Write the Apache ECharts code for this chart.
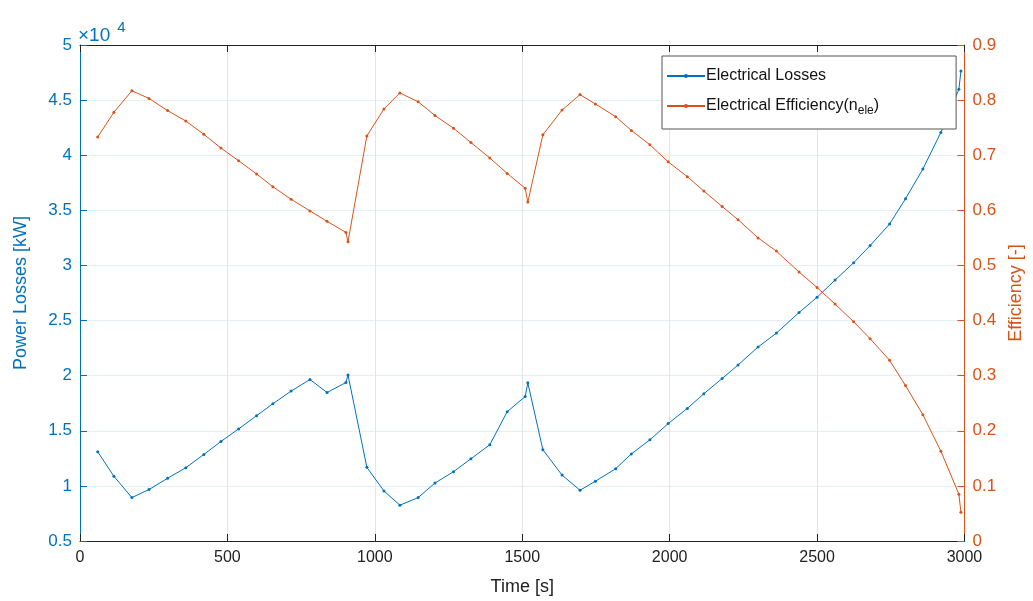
<!DOCTYPE html>
<html>
<head>
<meta charset="utf-8">
<script src="https://cdn.jsdelivr.net/npm/echarts@6/dist/echarts.min.js"></script>
<style>
  html, body { margin: 0; padding: 0; background: #fff; }
  #chart { width: 1033px; height: 601px; }
</style>
</head>
<body>
<div id="chart"></div>
<script>
// time stamps [s]
var time = [60, 115, 176, 234, 297, 359, 420, 478, 538, 599, 654, 716, 780, 838, 902, 909,
  973, 1031, 1085, 1147, 1204, 1267, 1326, 1390, 1449, 1510, 1519, 1570, 1635, 1696, 1748,
  1817, 1870, 1933, 1995, 2060, 2116, 2178, 2232, 2300, 2362, 2439, 2500, 2561, 2624, 2680,
  2746, 2800, 2859, 2920, 2981, 2988];

// electrical losses [kW] (in units of 1e4)
var losses = [1.31, 1.087, 0.894, 0.967, 1.069, 1.165, 1.285, 1.403, 1.517, 1.637, 1.745, 1.86,
  1.965, 1.847, 1.938, 2.007, 1.168, 0.954, 0.825, 0.894, 1.026, 1.129, 1.246, 1.373, 1.673,
  1.811, 1.935, 1.328, 1.098, 0.96, 1.042, 1.156, 1.29, 1.418, 1.565, 1.703, 1.836, 1.974,
  2.097, 2.26, 2.386, 2.573, 2.711, 2.867, 3.024, 3.18, 3.376, 3.605, 3.875, 4.207, 4.598, 4.763];

// electrical efficiency [-]
var efficiency = [0.733, 0.778, 0.817, 0.803, 0.781, 0.762, 0.738, 0.713, 0.69, 0.666, 0.643,
  0.62, 0.599, 0.58, 0.56, 0.543, 0.735, 0.784, 0.813, 0.797, 0.772, 0.749, 0.723, 0.695,
  0.667, 0.64, 0.615, 0.737, 0.782, 0.81, 0.793, 0.77, 0.745, 0.719, 0.688, 0.661, 0.635,
  0.607, 0.583, 0.55, 0.526, 0.488, 0.46, 0.43, 0.398, 0.367, 0.328, 0.282, 0.229, 0.163,
  0.085, 0.052];

var blue = '#0072BD';
var orange = '#D95319';
var font = 'Liberation Sans, Arial, sans-serif';

var lossData = time.map(function (t, i) { return [t, losses[i] * 10000]; });
var effData = time.map(function (t, i) { return [t, efficiency[i]]; });

var myChart = echarts.init(document.getElementById('chart'));

var option = {
  animation: false,
  textStyle: { fontFamily: font },
  grid: { left: 80, right: 67, top: 45, bottom: 57 },
  legend: {
    left: 662,
    top: 56,
    orient: 'vertical',
    padding: [12, 77, 12, 4],
    itemWidth: 38,
    itemHeight: 5,
    itemGap: 14,
    borderColor: '#555',
    borderWidth: 1,
    backgroundColor: '#fff',
    textStyle: {
      fontSize: 16,
      color: '#111',
      padding: [0, 0, 0, -4],
      rich: {
        sub: { fontSize: 12, verticalAlign: 'bottom', padding: [10, 0, 0, 0], color: '#111' }
      }
    },
    formatter: function (name) {
      return name === 'Electrical Efficiency' ? 'Electrical Efficiency(n{sub|ele})' : name;
    },
    data: ['Electrical Losses', 'Electrical Efficiency']
  },
  graphic: [{
    type: 'text',
    left: 78,
    top: 20,
    style: {
      text: '×10{sup|4}',
      fill: blue,
      font: '19px ' + font,
      rich: { sup: { fontSize: 15, fill: blue, verticalAlign: 'top', padding: [0, 0, 16, 7] } }
    }
  }],
  xAxis: [{
    type: 'value',
    min: 0,
    max: 3000,
    interval: 500,
    name: 'Time [s]',
    nameLocation: 'middle',
    nameGap: 37,
    nameTextStyle: { fontSize: 18, color: '#222' },
    axisLine: { onZero: false, lineStyle: { color: '#222', width: 1 } },
    axisTick: { inside: true, length: 7, lineStyle: { color: '#222' } },
    axisLabel: { fontSize: 16, color: '#222', margin: 9, formatter: function (v) { return String(v); } },
    splitLine: { show: true, lineStyle: { color: '#e2e5ea', width: 1 } }
  }, {
    type: 'value',
    position: 'top',
    min: 0,
    max: 3000,
    interval: 500,
    axisLine: { onZero: false, lineStyle: { color: '#222', width: 1 } },
    axisTick: { inside: true, length: 7, lineStyle: { color: '#222' } },
    axisLabel: { show: false },
    splitLine: { show: false }
  }],
  yAxis: [{
    type: 'value',
    min: 5000,
    max: 50000,
    interval: 5000,
    position: 'left',
    name: 'Power Losses [kW]',
    nameLocation: 'middle',
    nameGap: 50,
    nameTextStyle: { fontSize: 18, color: blue },
    axisLine: { show: true, onZero: false, lineStyle: { color: blue, width: 1 } },
    axisTick: { show: true, inside: true, length: 7, lineStyle: { color: blue } },
    axisLabel: {
      fontSize: 17, color: blue, margin: 8,
      formatter: function (v) { return String(Math.round(v / 1000) / 10); }
    },
    splitLine: { show: true, lineStyle: { color: '#e6edf4', width: 1 } }
  }, {
    type: 'value',
    min: 0,
    max: 0.9,
    interval: 0.1,
    position: 'right',
    name: 'Efficiency [-]',
    nameLocation: 'middle',
    nameGap: 40,
    nameTextStyle: { fontSize: 18, color: orange },
    axisLine: { show: true, onZero: false, lineStyle: { color: orange, width: 1 } },
    axisTick: { show: true, inside: true, length: 7, lineStyle: { color: orange } },
    axisLabel: {
      fontSize: 17, color: orange, margin: 8,
      formatter: function (v) { return String(Math.round(v * 10) / 10); }
    },
    splitLine: { show: false }
  }],
  series: [{
    name: 'Electrical Losses',
    type: 'line',
    yAxisIndex: 0,
    data: lossData,
    color: blue,
    symbol: 'circle',
    symbolSize: 3,
    showSymbol: true,
    lineStyle: { width: 1 },
    itemStyle: { color: blue }
  }, {
    name: 'Electrical Efficiency',
    type: 'line',
    yAxisIndex: 1,
    data: effData,
    color: orange,
    symbol: 'circle',
    symbolSize: 3,
    showSymbol: true,
    lineStyle: { width: 1 },
    itemStyle: { color: orange }
  }]
};

option && myChart.setOption(option);
</script>
</body>
</html>
